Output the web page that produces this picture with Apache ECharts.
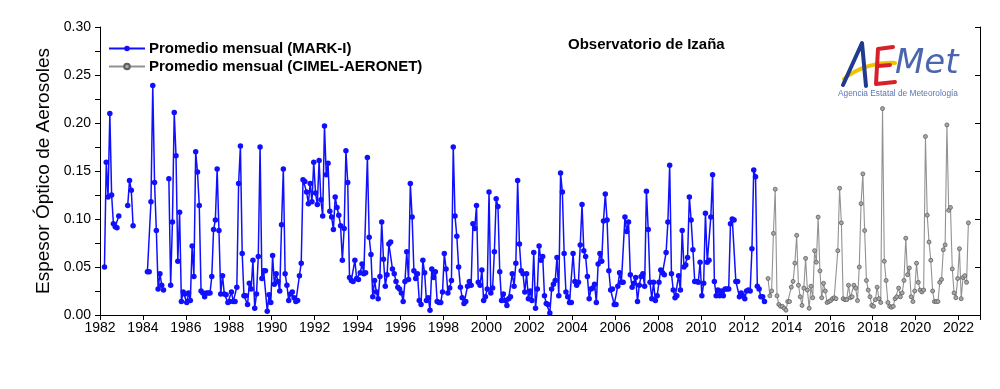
<!DOCTYPE html>
<html>
<head>
<meta charset="utf-8">
<script src="https://cdn.jsdelivr.net/npm/echarts@6/dist/echarts.min.js"></script>
<style>html,body{margin:0;padding:0;background:#fff}#c{width:1000px;height:389px}</style>
</head>
<body>
<div id="c"></div>
<script>
// Monthly means (Jan..Dec), null = no data
const m1982 = [null,null,0.050,0.159,0.123,0.210,0.125,0.095,0.092,0.091,0.103,null];
const m1983 = [null,null,null,0.114,0.140,0.130,0.093,null,null,null,null,null];
const m1984 = [null,null,0.045,0.045,0.118,0.239,0.138,0.088,0.027,0.043,0.031,0.026];
const m1985 = [null,null,0.142,0.031,0.097,0.211,0.166,0.056,0.107,0.014,0.024,0.022];
const m1986 = [0.013,0.023,0.015,0.072,0.040,0.170,0.149,0.114,0.025,0.023,0.019,0.023];
const m1987 = [0.023,0.023,0.040,0.089,0.099,0.152,0.088,0.022,0.041,0.022,0.021,0.013];
const m1988 = [0.014,0.024,0.014,0.014,0.029,0.137,0.176,0.064,0.020,0.020,0.011,0.033];
const m1989 = [0.027,0.057,0.007,0.022,0.061,0.175,0.038,0.046,0.046,0.004,0.021,0.013];
const m1990 = [0.062,0.032,0.043,0.035,0.025,0.094,0.152,0.043,0.031,0.015,0.022,0.024];
const m1991 = [0.018,0.014,0.015,0.041,0.054,0.141,0.139,0.128,0.116,0.137,0.118,0.159];
const m1992 = [0.127,0.115,0.161,0.120,0.103,0.197,0.146,0.158,0.108,0.102,0.089,0.123];
const m1993 = [0.112,0.104,0.093,0.057,0.090,0.171,0.138,0.039,0.036,0.035,0.057,0.038];
const m1994 = [0.037,0.044,0.053,0.043,0.044,0.164,0.081,0.063,0.019,0.036,0.024,0.017];
const m1995 = [0.040,0.097,0.058,0.030,0.042,0.074,0.076,0.048,0.043,0.035,0.029,0.027];
const m1996 = [0.023,0.014,0.035,0.066,0.037,0.137,0.102,0.046,0.038,0.043,0.015,0.011];
const m1997 = [0.057,0.044,0.015,0.018,0.005,0.048,0.039,0.045,0.014,0.013,0.013,0.024];
const m1998 = [0.064,0.048,0.023,0.028,0.036,0.175,0.103,0.082,0.050,0.029,0.018,0.012];
const m1999 = [0.014,0.030,0.035,0.031,0.095,0.090,0.114,0.034,0.031,0.047,0.015,0.019];
const m2000 = [0.027,0.128,0.023,0.028,0.066,0.121,0.113,0.045,0.015,0.022,0.015,0.010];
const m2001 = [0.017,0.019,0.043,0.030,0.054,0.140,0.074,0.046,0.043,0.024,0.043,0.017];
const m2002 = [0.025,0.015,0.065,0.007,0.027,0.072,0.057,0.061,0.020,0.012,0.011,0.002];
const m2003 = [0.027,0.032,0.036,0.060,0.020,0.148,0.128,0.064,0.024,0.019,0.013,0.013];
const m2004 = [0.064,0.035,0.031,0.034,0.073,0.115,0.067,0.061,0.040,0.017,0.027,0.028];
const m2005 = [0.032,0.013,0.053,0.064,0.056,0.098,0.126,0.099,0.046,0.026,0.027,0.011];
const m2006 = [0.011,0.030,0.044,0.034,0.034,0.102,0.087,0.097,0.042,0.029,0.033,0.039];
const m2007 = [0.014,0.031,0.040,0.043,0.030,0.129,0.089,0.034,0.017,0.034,0.015,0.020];
const m2008 = [0.034,0.047,0.044,0.042,0.065,0.097,0.156,0.043,0.026,0.018,0.020,0.041];
const m2009 = [0.026,0.088,0.050,0.052,0.060,0.123,0.099,0.068,0.035,0.035,0.034,0.055];
const m2010 = [0.020,0.033,0.106,0.055,0.057,0.102,0.146,0.035,0.020,0.026,0.020,0.025];
const m2011 = [0.020,0.027,0.027,0.027,0.095,0.100,0.099,0.035,0.035,0.019,0.023,0.020];
const m2012 = [0.017,0.025,0.026,0.025,0.069,0.151,0.144,0.030,0.027,0.019,0.019,0.014];

const c2013 = [null,0.038,0.020,0.025,0.085,0.131,0.020,0.011,0.009,0.009,0.007,0.005];
const c2014 = [0.014,0.014,0.029,0.035,0.054,0.083,0.031,0.019,0.010,0.028,0.059,0.026];
const c2015 = [0.007,0.030,0.018,0.067,0.055,0.102,0.046,0.018,0.033,0.025,0.013,0.014];
const c2016 = [0.015,0.017,0.018,0.017,0.067,0.132,0.096,0.017,0.016,0.016,0.031,0.018];
const c2017 = [0.019,0.031,0.028,0.015,0.050,0.116,0.147,0.088,0.036,0.026,0.019,0.010];
const c2018 = [0.009,0.016,0.029,0.017,0.013,0.215,0.056,0.036,0.013,0.009,0.008,0.009];
const c2019 = [0.017,0.019,0.028,0.019,0.023,0.036,0.080,0.042,0.049,0.019,0.014,0.025];
const c2020 = [0.054,0.034,0.026,0.024,0.026,0.186,0.104,0.076,0.057,0.025,0.014,0.014];
const c2021 = [0.014,0.034,0.037,0.068,0.073,0.198,0.109,0.112,0.048,0.023,0.018,0.038];
const c2022 = [0.069,0.017,0.039,0.041,0.034,0.096];

const markIYears = [[1982,m1982],[1983,m1983],[1984,m1984],[1985,m1985],[1986,m1986],[1987,m1987],
  [1988,m1988],[1989,m1989],[1990,m1990],[1991,m1991],[1992,m1992],[1993,m1993],[1994,m1994],
  [1995,m1995],[1996,m1996],[1997,m1997],[1998,m1998],[1999,m1999],[2000,m2000],[2001,m2001],
  [2002,m2002],[2003,m2003],[2004,m2004],[2005,m2005],[2006,m2006],[2007,m2007],[2008,m2008],
  [2009,m2009],[2010,m2010],[2011,m2011],[2012,m2012]];
const cimelYears = [[2013,c2013],[2014,c2014],[2015,c2015],[2016,c2016],[2017,c2017],[2018,c2018],
  [2019,c2019],[2020,c2020],[2021,c2021],[2022,c2022]];

const seriesNames = ['Promedio mensual (MARK-I)','Promedio mensual (CIMEL-AERONET)'];
const yTicks = [0,0.05,0.10,0.15,0.20,0.25,0.30];

function build(years){
  const out = [];
  years.forEach(([y, arr]) => {
    arr.forEach((v, m) => { out.push([y + (m + 0.5) / 12, v]); });
  });
  return out;
}

const chart = echarts.init(document.getElementById('c'), null, {renderer:'canvas'});
const font = 'Liberation Sans, Arial, sans-serif';
const axisCommon = {
  axisLine:{show:true, lineStyle:{color:'#000', width:1}},
  splitLine:{show:false}
};
chart.setOption({
  animation:false,
  backgroundColor:'#fff',
  grid:{left:100, right:20, top:27, bottom:74, containLabel:false},
  legend:{
    orient:'vertical', left:108, top:41, padding:0, itemWidth:36, itemHeight:7, itemGap:3,
    data:seriesNames,
    textStyle:{fontFamily:font, fontSize:15, fontWeight:'bold', color:'#000', padding:[0,0,0,-1]}
  },
  xAxis:[
    Object.assign({type:'value', min:1982, max:2023, interval:2, position:'bottom',
      axisTick:{show:true, inside:false, length:5, lineStyle:{color:'#000'}},
      axisLabel:{show:true, margin:6, color:'#000', fontFamily:font, fontSize:14,
        showMaxLabel:false,
        formatter:(v)=> (Math.round(v)%2===0 ? String(Math.round(v)) : '')}
    }, axisCommon),
    Object.assign({type:'value', min:1982, max:2023, interval:2, position:'top',
      axisTick:{show:true, inside:true, length:5, lineStyle:{color:'#000'}},
      axisLabel:{show:false}
    }, axisCommon)
  ],
  yAxis:[
    Object.assign({type:'value', min:0, max:0.3, interval:0.05, position:'left',
      name:'Espesor Óptico de Aerosoles', nameLocation:'middle', nameGap:43,
      nameTextStyle:{fontFamily:font, fontSize:19, color:'#000'},
      axisTick:{show:true, inside:false, length:5, lineStyle:{color:'#000'}},
      minorTick:{show:true, splitNumber:2, length:5, lineStyle:{color:'#000'}},
      axisLabel:{show:true, margin:9, color:'#000', fontFamily:font, fontSize:14,
        formatter:(v)=> { const t = yTicks.find(x => Math.abs(x - v) < 1e-9); return (t===undefined? v : t).toFixed(2); }}
    }, axisCommon),
    Object.assign({type:'value', min:0, max:0.3, interval:0.05, position:'right',
      axisTick:{show:true, inside:true, length:5, lineStyle:{color:'#000'}},
      axisLabel:{show:false}
    }, axisCommon)
  ],
  series:[
    {name:seriesNames[0], type:'line', xAxisIndex:0, yAxisIndex:0, data:build(markIYears),
      connectNulls:false, symbol:'circle', symbolSize:5.5, showAllSymbol:true,
      lineStyle:{color:'#1010ff', width:1.5},
      itemStyle:{color:'#1010ff'}},
    {name:seriesNames[1], type:'line', xAxisIndex:0, yAxisIndex:0, data:build(cimelYears),
      connectNulls:false, symbol:'circle', symbolSize:4, showAllSymbol:true,
      lineStyle:{color:'#929292', width:1.1},
      itemStyle:{color:'#a8a8a8', borderColor:'#5e5e5e', borderWidth:0.8}}
  ],
  graphic:[
    {type:'text', left:568, top:37, style:{text:'Observatorio de Izaña', font:'bold 15px '+font, fill:'#000'}},
    // AEMET logo
    {type:'bezierCurve', shape:{x1:844,y1:79,cpx1:858,cpy1:67,cpx2:878,cpy2:62,x2:895,y2:63},
      style:{stroke:'#f2c200', lineWidth:4, fill:null, lineCap:'round'}},
    {type:'polyline', shape:{points:[[843,85],[862,43],[866,86]]},
      style:{stroke:'#1f3a8f', lineWidth:4, fill:null, lineCap:'round', lineJoin:'round'}},
    {type:'polyline', shape:{points:[[893,47],[878,49],[876,84],[895,82]]},
      style:{stroke:'#d8202a', lineWidth:4, fill:null, lineCap:'round', lineJoin:'round'}},
    {type:'polyline', shape:{points:[[878,66],[890,65]]},
      style:{stroke:'#d8202a', lineWidth:4, fill:null, lineCap:'round'}},
    {type:'text', left:895, top:47, style:{text:'Met', font:'italic 34px DejaVu Sans, sans-serif', fill:'#4c66ad'}},
    {type:'text', left:838, top:90, style:{text:'Agencia Estatal de Meteorología', font:'8.3px '+font, fill:'#5b74b5'}}
  ]
});
</script>
</body>
</html>
